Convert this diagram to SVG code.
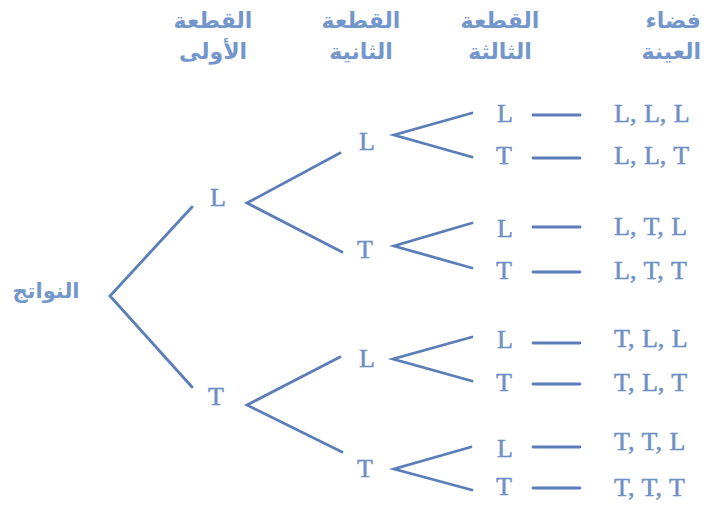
<svg xmlns="http://www.w3.org/2000/svg" width="715" height="508" viewBox="0 0 715 508">
<style>
.h{font-family:"DejaVu Sans","Noto Sans",sans-serif;font-weight:bold;font-size:22px;fill:#7396cb;text-anchor:middle}
.hr{text-anchor:end}
.n{font-family:"Liberation Serif",serif;font-size:26px;fill:#6e8fc4;stroke:#6e8fc4;stroke-width:0.5;text-anchor:middle}
.o{font-family:"Liberation Serif",serif;font-size:26px;fill:#6e8fc4;stroke:#6e8fc4;stroke-width:0.5;word-spacing:1px}
.c{stroke:#5b7db8;stroke-width:2.8;fill:none;stroke-linecap:round;stroke-linejoin:miter}
</style>
<rect width="715" height="508" fill="#ffffff"/>
<g id="headers">
<text class="h" x="213" y="28">القطعة</text>
<text class="h" x="213" y="59">الأولى</text>
<text class="h" x="361" y="28">القطعة</text>
<text class="h" x="361" y="59">الثانية</text>
<text class="h" x="500" y="28">القطعة</text>
<text class="h" x="500" y="59">الثالثة</text>
<text class="h hr" x="701" y="28">فضاء</text>
<text class="h hr" x="701" y="59">العينة</text>
</g>
<g id="connectors">
<polyline class="c" points="192,207 110,296 192,387"/>
<polyline class="c" points="340,153 247,203 342,252"/>
<polyline class="c" points="340,357 247,405 342,452"/>
<polyline class="c" points="472,113 394,135 472,157"/>
<polyline class="c" points="472,223 394,246 472,268"/>
<polyline class="c" points="472,337 393,359 472,381"/>
<polyline class="c" points="471,447 394,469 472,490"/>
<line class="c" x1="533" y1="115" x2="580" y2="115"/>
<line class="c" x1="533" y1="158" x2="580" y2="158"/>
<line class="c" x1="533" y1="227" x2="580" y2="227"/>
<line class="c" x1="533" y1="272" x2="580" y2="272"/>
<line class="c" x1="533" y1="343" x2="580" y2="343"/>
<line class="c" x1="533" y1="384" x2="580" y2="384"/>
<line class="c" x1="533" y1="447" x2="580" y2="447"/>
<line class="c" x1="533" y1="488" x2="580" y2="488"/>
</g>
<g id="root"><text class="h" x="46" y="298" style="font-size:21px">النواتج</text></g>
<g id="n1-L"><text class="n" x="218" y="206">L</text></g>
<g id="n1-T"><text class="n" x="216" y="405">T</text></g>
<g id="n2-LL"><text class="n" x="367" y="150">L</text></g>
<g id="n2-LT"><text class="n" x="365" y="258">T</text></g>
<g id="n2-TL"><text class="n" x="367" y="367">L</text></g>
<g id="n2-TT"><text class="n" x="365" y="477">T</text></g>
<g id="n3-1"><text class="n" x="505" y="122">L</text></g>
<g id="n3-2"><text class="n" x="504" y="164">T</text></g>
<g id="n3-3"><text class="n" x="505" y="237">L</text></g>
<g id="n3-4"><text class="n" x="504" y="279">T</text></g>
<g id="n3-5"><text class="n" x="505" y="348">L</text></g>
<g id="n3-6"><text class="n" x="504" y="391">T</text></g>
<g id="n3-7"><text class="n" x="505" y="457">L</text></g>
<g id="n3-8"><text class="n" x="504" y="495">T</text></g>
<g id="o1"><text class="o" x="614" y="122">L, L, L</text></g>
<g id="o2"><text class="o" x="614" y="164">L, L, T</text></g>
<g id="o3"><text class="o" x="614" y="235">L, T, L</text></g>
<g id="o4"><text class="o" x="614" y="279">L, T, T</text></g>
<g id="o5"><text class="o" x="614" y="347">T, L, L</text></g>
<g id="o6"><text class="o" x="614" y="391">T, L, T</text></g>
<g id="o7"><text class="o" x="614" y="450">T, T, L</text></g>
<g id="o8"><text class="o" x="614" y="496">T, T, T</text></g>
</svg>
